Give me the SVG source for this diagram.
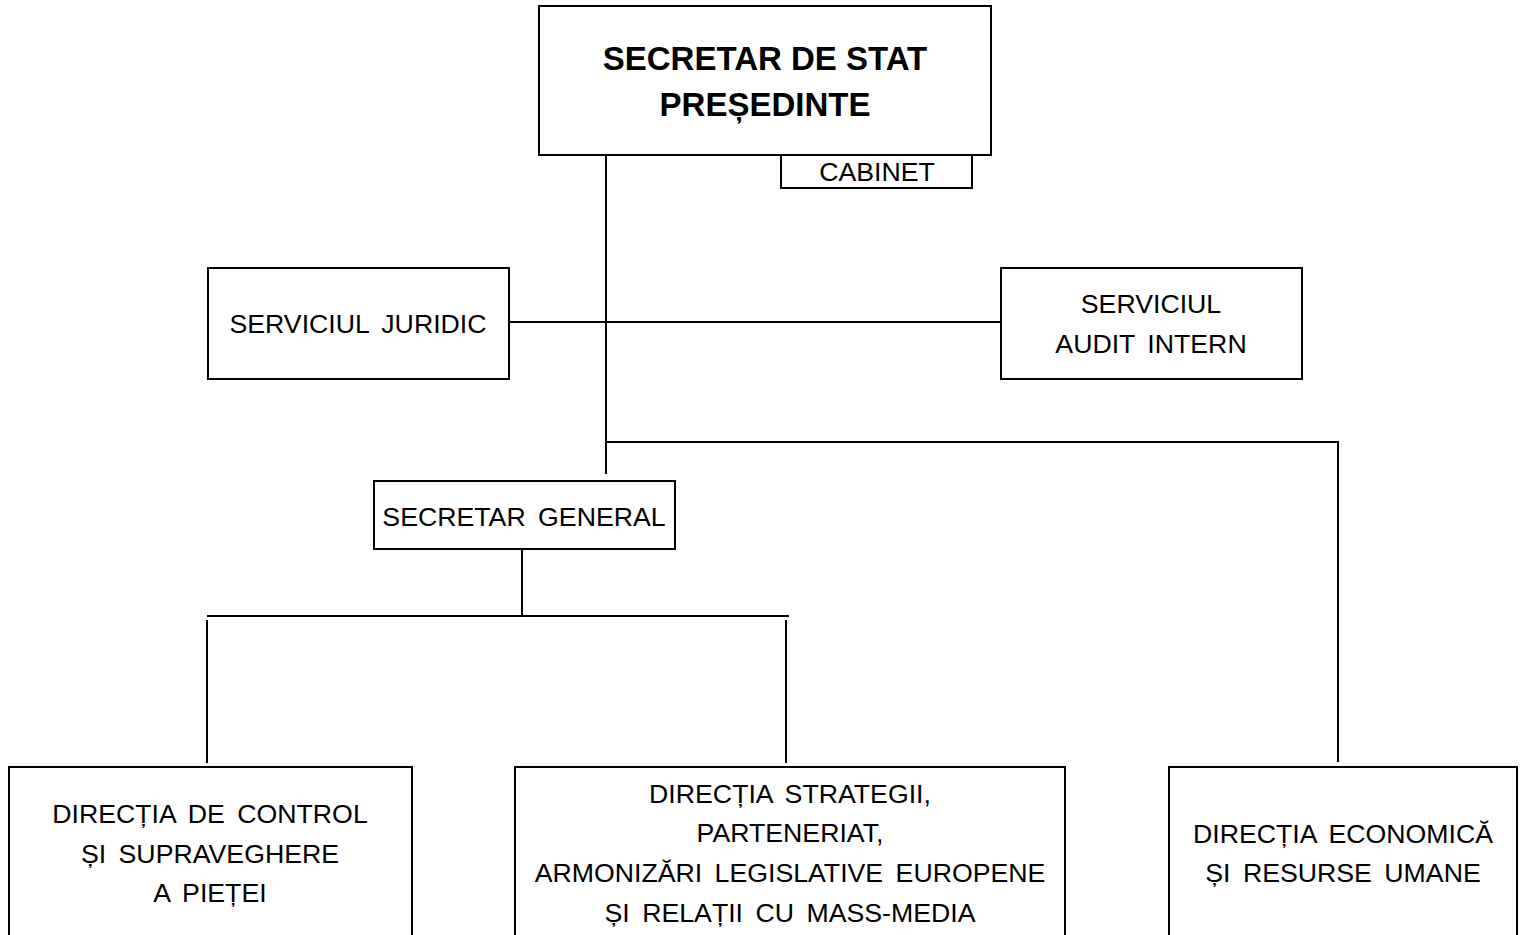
<svg xmlns="http://www.w3.org/2000/svg" width="1522" height="935" viewBox="0 0 1522 935">
<style>
  .box { fill: #fff; stroke: #000; stroke-width: 2; }
  .ln { stroke: #000; stroke-width: 2; fill: none; }
  text { font-family: "Liberation Sans", Arial, sans-serif; font-size: 26.7px; fill: #000; text-anchor: middle; word-spacing: 5px; }
  .b { font-weight: bold; font-size: 33px; word-spacing: 0; }
</style>
<rect width="1522" height="935" fill="#fff"/>
<g id="connectors">
  <line class="ln" x1="606" y1="155" x2="606" y2="474"/>
  <line class="ln" x1="509" y1="322" x2="1001" y2="322"/>
  <line class="ln" x1="606" y1="442" x2="1339" y2="442"/>
  <line class="ln" x1="1338" y1="442" x2="1338" y2="762"/>
  <line class="ln" x1="522" y1="549" x2="522" y2="616"/>
  <line class="ln" x1="207" y1="616" x2="789" y2="616"/>
  <line class="ln" x1="207" y1="620" x2="207" y2="763"/>
  <line class="ln" x1="786" y1="620" x2="786" y2="763"/>
</g>
<g id="secretar-stat">
  <rect class="box" x="539" y="6" width="452" height="149"/>
  <text class="b" x="765" y="70">SECRETAR DE STAT</text>
  <text class="b" x="765" y="116">PREȘEDINTE</text>
</g>
<g id="cabinet">
  <rect class="box" x="781" y="155" width="191" height="33"/>
  <text x="877" y="181">CABINET</text>
</g>
<g id="serviciul-juridic">
  <rect class="box" x="208" y="268" width="301" height="111"/>
  <text x="358" y="333">SERVICIUL JURIDIC</text>
</g>
<g id="serviciul-audit">
  <rect class="box" x="1001" y="268" width="301" height="111"/>
  <text x="1151" y="313">SERVICIUL</text>
  <text x="1151" y="353">AUDIT INTERN</text>
</g>
<g id="secretar-general">
  <rect class="box" x="374" y="481" width="301" height="68"/>
  <text x="524" y="526">SECRETAR GENERAL</text>
</g>
<g id="directia-control">
  <rect class="box" x="9" y="767" width="403" height="180"/>
  <text x="210" y="823">DIRECȚIA DE CONTROL</text>
  <text x="210" y="863">ȘI SUPRAVEGHERE</text>
  <text x="210" y="902">A PIEȚEI</text>
</g>
<g id="directia-strategii">
  <rect class="box" x="515" y="767" width="550" height="180"/>
  <text x="790" y="803">DIRECȚIA STRATEGII,</text>
  <text x="790" y="842">PARTENERIAT,</text>
  <text x="790" y="882">ARMONIZĂRI LEGISLATIVE EUROPENE</text>
  <text x="790" y="922">ȘI RELAȚII CU MASS-MEDIA</text>
</g>
<g id="directia-economica">
  <rect class="box" x="1169" y="767" width="348" height="180"/>
  <text x="1343" y="843">DIRECȚIA ECONOMICĂ</text>
  <text x="1343" y="882">ȘI RESURSE UMANE</text>
</g>
</svg>
